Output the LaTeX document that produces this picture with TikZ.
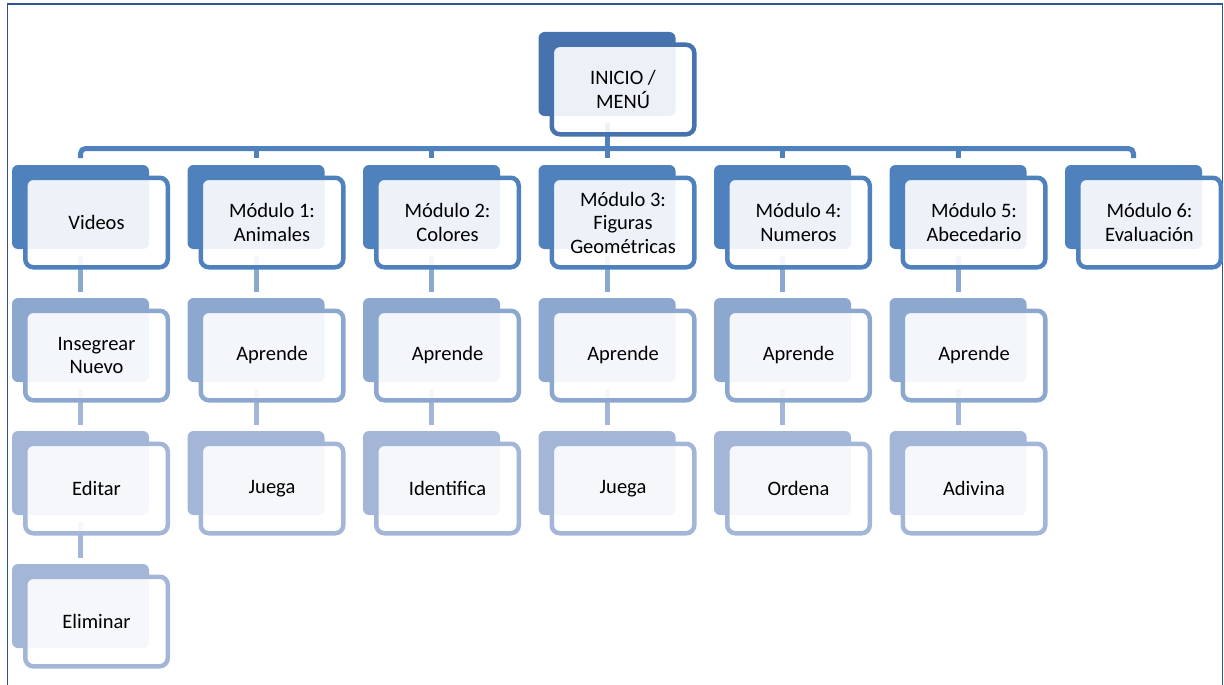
\documentclass[tikz,border=0pt]{standalone}
\usepackage{fontspec}
\setmainfont{Carlito}
\usetikzlibrary{calc}
\pgfdeclarelayer{bg}
\pgfsetlayers{bg,main}
\definecolor{cTop}{HTML}{4673AE}
\definecolor{cL1}{HTML}{4F81BD}
\definecolor{cL2}{HTML}{8DA8CF}
\definecolor{cL3}{HTML}{A3B6D8}
\definecolor{cFrame}{HTML}{2F5496}
\tikzset{
  backbox/.style={rectangle, rounded corners=6pt, fill=#1, minimum width=137pt, minimum height=84pt, inner sep=0pt, outer sep=0pt},
  frontbox/.style={rectangle, rounded corners=8pt, draw=#1, line width=4.5pt, fill=white, fill opacity=0.9, text opacity=1, minimum width=142.5pt, minimum height=89.5pt, inner sep=0pt, outer sep=0pt, align=center, font=\fontsize{20.5}{23.5}\selectfont},
  link/.style={draw=#1, line width=5pt},
}
\newcommand\mkbox[5]{%
  \node[backbox=#4] (#1) at (#2+68.5,#3+42) {};
  \node[frontbox=#4] (#1f) at (#2+84.5,#3+57.5) {#5};
}
\begin{document}
\begin{tikzpicture}[x=1pt,y=-1pt]
\useasboundingbox (0,0) rectangle (1224,685);
\draw[cFrame, line width=1.5pt] (7.5,695) -- (7.5,4) -- (1222.5,4) -- (1222.5,695);

\mkbox{top}{538.5}{32}{cTop}{INICIO /\\MENÚ}

\mkbox{m0}{12}{165}{cL1}{Videos}
\mkbox{m1}{187.5}{165}{cL1}{Módulo 1:\\Animales}
\mkbox{m2}{363}{165}{cL1}{Módulo 2:\\Colores}
\mkbox{m3}{538.5}{165}{cL1}{Módulo 3:\\Figuras\\Geométricas}
\mkbox{m4}{714}{165}{cL1}{Módulo 4:\\Numeros}
\mkbox{m5}{889.5}{165}{cL1}{Módulo 5:\\Abecedario}
\mkbox{m6}{1065}{165}{cL1}{Módulo 6:\\Evaluación}

\mkbox{a0}{12}{298}{cL2}{Insegrear\\Nuevo}
\mkbox{a1}{187.5}{298}{cL2}{Aprende}
\mkbox{a2}{363}{298}{cL2}{Aprende}
\mkbox{a3}{538.5}{298}{cL2}{Aprende}
\mkbox{a4}{714}{298}{cL2}{Aprende}
\mkbox{a5}{889.5}{298}{cL2}{Aprende}

\mkbox{b0}{12}{431}{cL3}{Editar}
\mkbox{b1}{187.5}{431}{cL3}{Juega}
\mkbox{b2}{363}{431}{cL3}{Identifica}
\mkbox{b3}{538.5}{431}{cL3}{Juega}
\mkbox{b4}{714}{431}{cL3}{Ordena}
\mkbox{b5}{889.5}{431}{cL3}{Adivina}

\mkbox{c0}{12}{564}{cL3}{Eliminar}

\coordinate (barY) at (0,148.5);
\begin{pgfonlayer}{bg}
  \draw[link=cL1] ($(top.south)+(0,7)$) -- (top.south |- barY);
  \draw[link=cL1, rounded corners=5pt] ($(m0.north)+(0,-7)$) -- (m0.north |- barY) -- (m6.north |- barY) -- ($(m6.north)+(0,-7)$);
  \foreach \m in {m1,m2,m3,m4,m5}
    \draw[link=cL1] (\m.north |- barY) -- ($(\m.north)+(0,-7)$);
  \foreach \p/\c in {m0/a0,m1/a1,m2/a2,m3/a3,m4/a4,m5/a5}
    \draw[link=cL2] ($(\p.south)+(0,7)$) -- ($(\c.north)+(0,-6)$);
  \foreach \p/\c in {a0/b0,a1/b1,a2/b2,a3/b3,a4/b4,a5/b5,b0/c0}
    \draw[link=cL3] ($(\p.south)+(0,7)$) -- ($(\c.north)+(0,-6)$);
\end{pgfonlayer}
\end{tikzpicture}
\end{document}
